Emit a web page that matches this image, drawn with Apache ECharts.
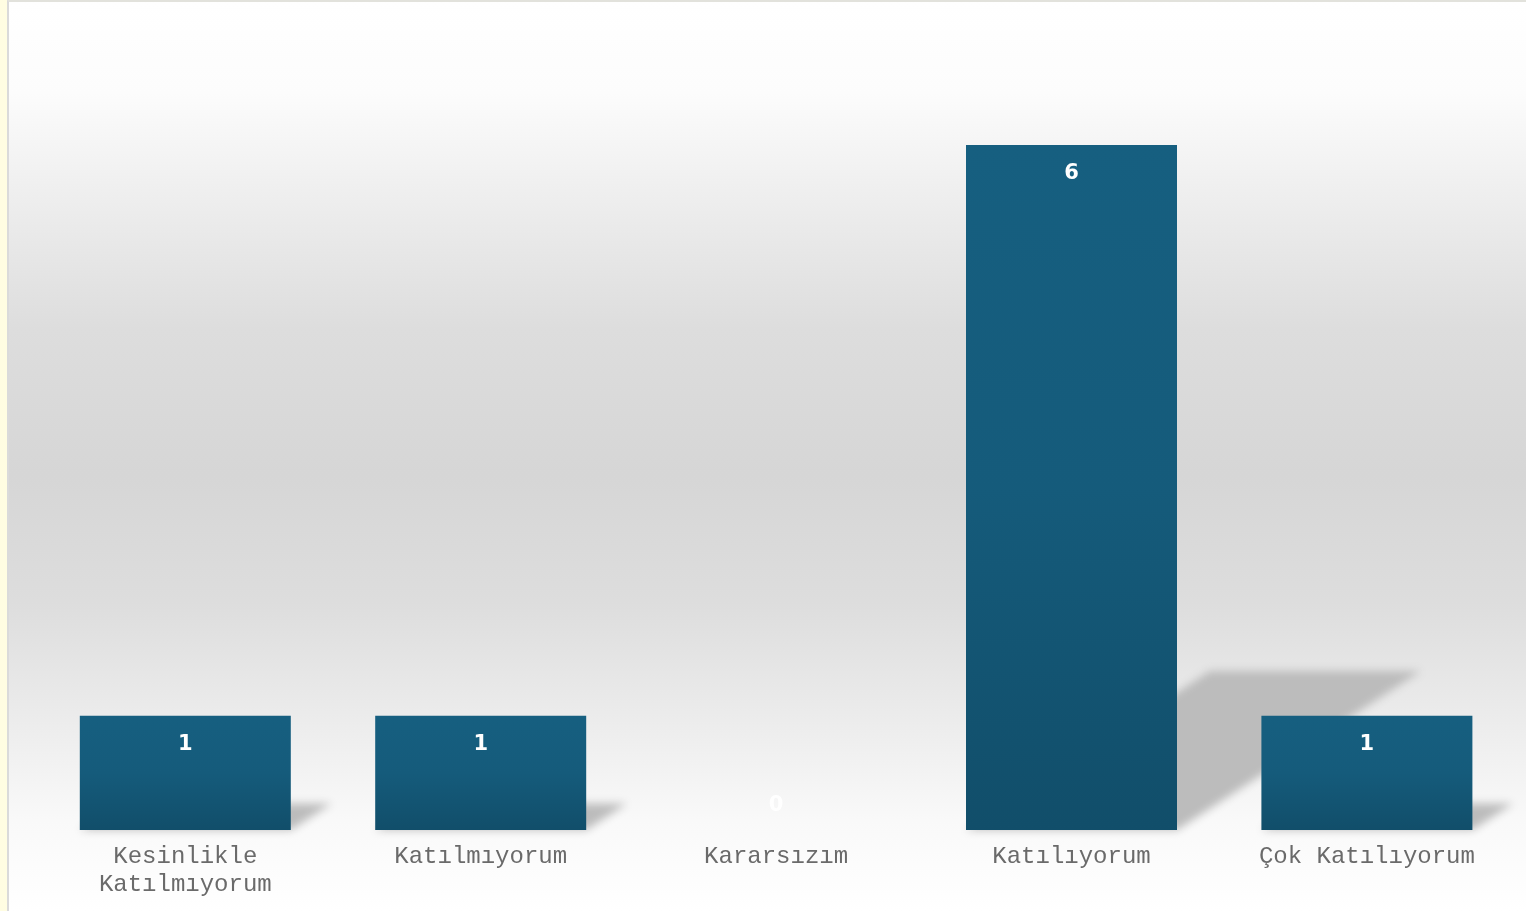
<!DOCTYPE html>
<html>
<head>
<meta charset="utf-8">
<script src="https://cdn.jsdelivr.net/npm/echarts@6/dist/echarts.min.js"></script>
<style>
  html, body { margin: 0; padding: 0; width: 1526px; height: 911px; overflow: hidden; background: #fffde2; }
  #wrap { position: absolute; left: 7px; top: 0; width: 1519px; height: 911px; border-left: 2px solid #dadada; border-top: 2px solid #e2e2dc; box-sizing: border-box; }
  #chart { width: 1517px; height: 909px; }
</style>
</head>
<body>
<div id="wrap"><div id="chart"></div></div>
<script>
const categories = ['Kesinlikle Katılmıyorum', 'Katılmıyorum', 'Kararsızım', 'Katılıyorum', 'Çok Katılıyorum'];
const counts = [1, 1, 0, 6, 1];

const chart = echarts.init(document.getElementById('chart'));

const barData = counts.map(v => v === 0
  ? { value: v, label: { position: 'top', distance: 14 } }
  : v);

const OFF = 3000;

chart.setOption({
  animation: false,
  backgroundColor: {
    type: 'linear', x: 0, y: 0, x2: 0, y2: 1,
    colorStops: [
      { offset: 0, color: '#ffffff' },
      { offset: 0.1, color: '#fcfcfc' },
      { offset: 0.24, color: '#ebebeb' },
      { offset: 0.36, color: '#dddddd' },
      { offset: 0.52, color: '#d6d6d6' },
      { offset: 0.66, color: '#dddddd' },
      { offset: 0.79, color: '#ececec' },
      { offset: 0.9, color: '#f9f9f9' },
      { offset: 1, color: '#ffffff' }
    ]
  },
  grid: { left: 28.6, right: 11.4, top: 143, bottom: 81, containLabel: false },
  xAxis: {
    type: 'category',
    data: categories,
    axisLine: { show: false },
    axisTick: { show: false },
    axisLabel: {
      margin: 13,
      color: '#6a6a6a',
      fontFamily: 'Liberation Mono',
      fontSize: 24,
      lineHeight: 28,
      interval: 0,
      formatter: function (v) { return v.length > 19 ? v.replace(' ', '\n') : v; }
    }
  },
  yAxis: {
    type: 'value', min: 0, max: 6, show: false,
    splitLine: { show: false }
  },
  series: [
    {
      type: 'custom',
      z: 1,
      clip: false,
      silent: true,
      data: counts.map((v, i) => [i, v]),
      renderItem: function (params, api) {
        const i = api.value(0), v = api.value(1);
        const base = api.coord([i, 0]);
        const top = api.coord([i, v]);
        const h = base[1] - top[1];
        const hw = 105.5;
        const dx = 0.356 * h, dy = 0.232 * h;
        const x = base[0] + OFF;
        return {
          type: 'polygon',
          shape: { points: [
            [x - hw, base[1]], [x + hw, base[1]],
            [x + hw + dx, base[1] - dy], [x - hw + dx, base[1] - dy]
          ] },
          style: { fill: '#bdbdbd', shadowBlur: 9, shadowOffsetX: -OFF, shadowColor: '#bcbcbc' }
        };
      }
    },
    {
      type: 'bar',
      z: 3,
      data: barData,
      barWidth: 211,
      itemStyle: {
        color: {
          type: 'linear', x: 0, y: 0, x2: 0, y2: 1,
          colorStops: [
            { offset: 0, color: '#165f80' },
            { offset: 0.5, color: '#155b7b' },
            { offset: 1, color: '#114e6a' }
          ]
        }
      },
      label: {
        show: true,
        position: 'insideTop',
        distance: 18,
        color: '#ffffff',
        fontFamily: 'DejaVu Sans',
        fontWeight: 'bold',
        fontSize: 21
      }
    }
  ]
});
</script>
</body>
</html>
